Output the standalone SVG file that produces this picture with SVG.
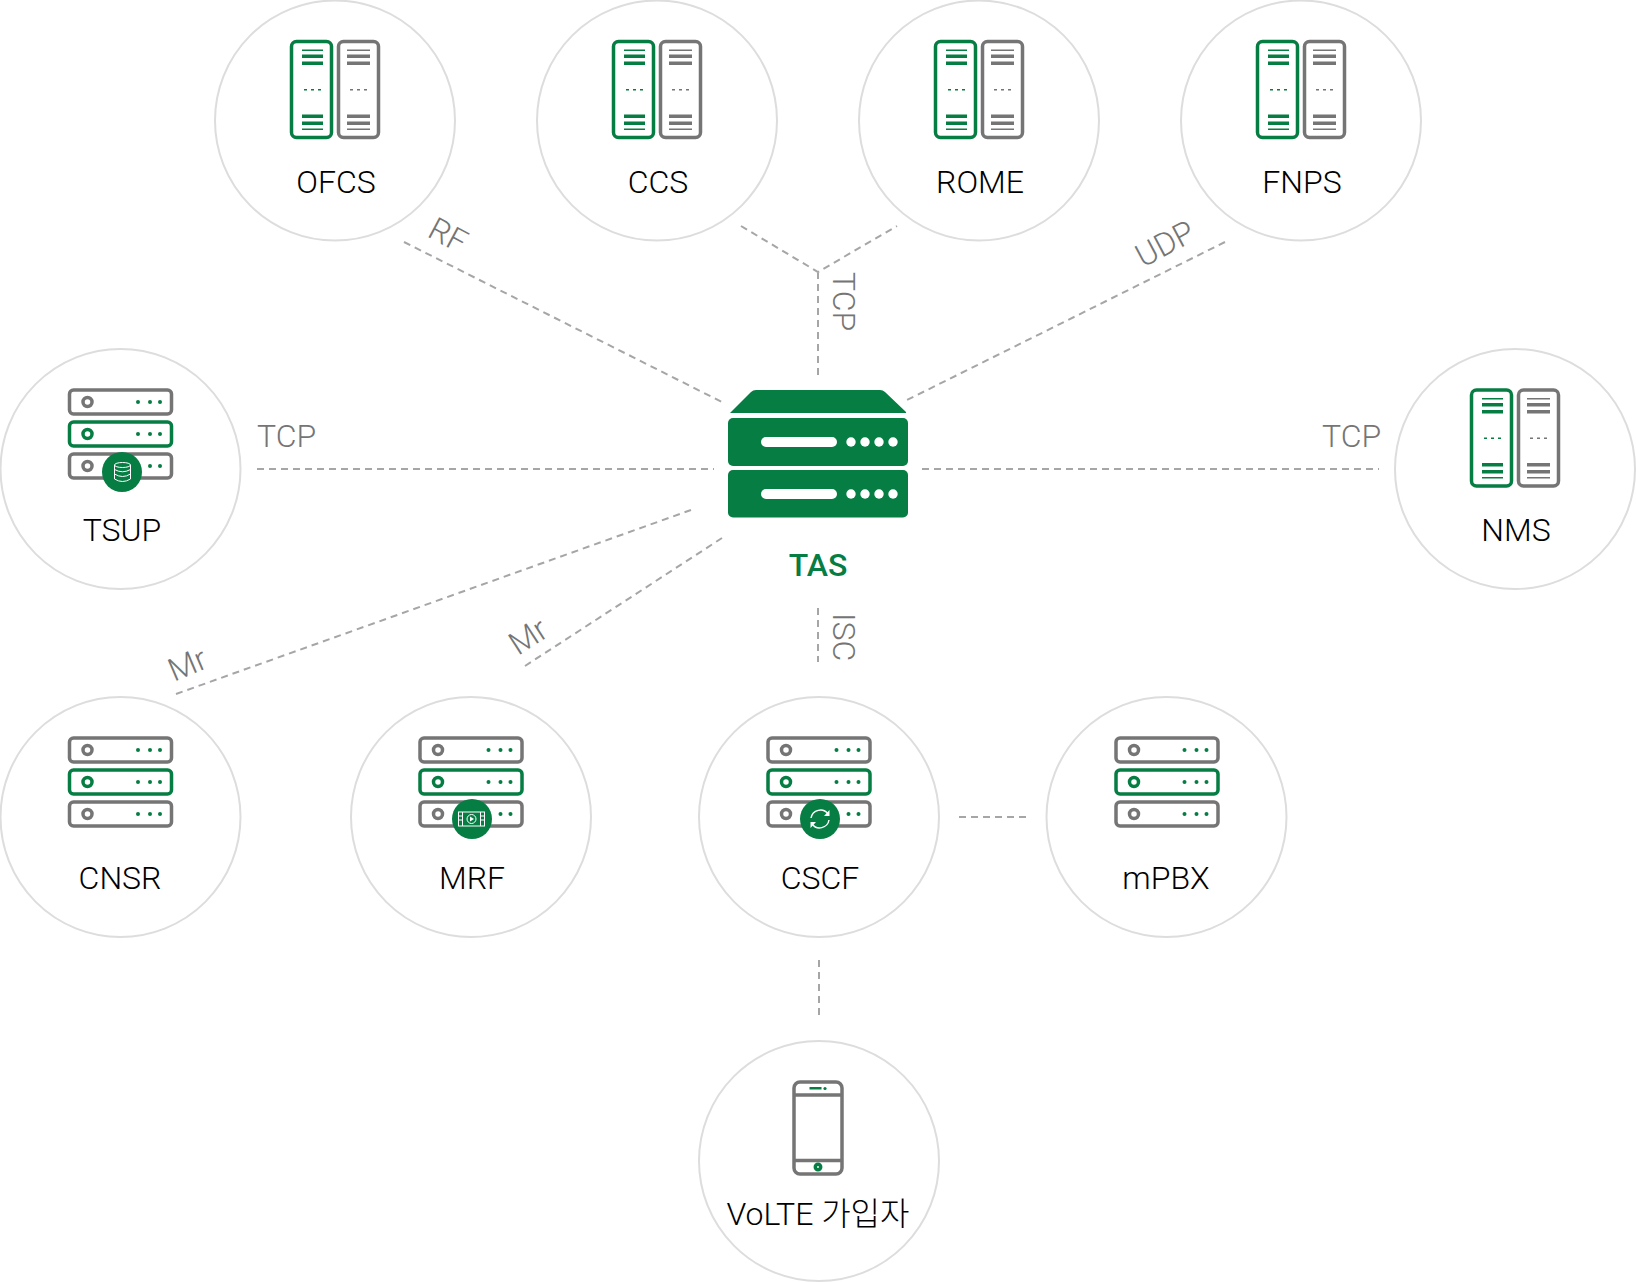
<svg xmlns="http://www.w3.org/2000/svg" width="1636" height="1282" viewBox="0 0 1636 1282">
<style>
.c{fill:#fff;stroke:#ddd;stroke-width:2}
.n{font:300 32px Roboto,"Noto Sans CJK KR",sans-serif;fill:#000;text-anchor:middle}
.t{font:300 32px Roboto,sans-serif;fill:#757575}
.l{fill:none;stroke:#a6a6a6;stroke-width:2;stroke-dasharray:7 5}
.g{fill:none;stroke:#757575;stroke-width:3.500}
.v{fill:none;stroke:#067d43;stroke-width:3.500}
.gf{fill:#757575}.vf{fill:#067d43}
</style>
<defs>
<g id="ii">
<rect class="v" x="-43.500" y="-79" width="40" height="96" rx="5"/>
<rect class="g" x="3.500" y="-79" width="40" height="96" rx="5"/>
<g class="vf"><rect x="-33" y="-71" width="21" height="1.500"/><rect x="-33" y="-66" width="21" height="3.500"/><rect x="-33" y="-59" width="21" height="3.500"/><rect x="-33" y="-6" width="21" height="3.500"/><rect x="-33" y="1" width="21" height="3.500"/><rect x="-33" y="8" width="21" height="1.500"/><rect x="-31" y="-31.500" width="3" height="1.500"/><rect x="-24" y="-31.500" width="3" height="1.500"/><rect x="-17" y="-31.500" width="3" height="1.500"/></g>
<g class="gf"><rect x="12" y="-71" width="23" height="1.500"/><rect x="12" y="-66" width="23" height="3.500"/><rect x="12" y="-59" width="23" height="3.500"/><rect x="12" y="-6" width="23" height="3.500"/><rect x="12" y="1" width="23" height="3.500"/><rect x="12" y="8" width="23" height="1.500"/><rect x="15" y="-31.500" width="3" height="1.500"/><rect x="22" y="-31.500" width="3" height="1.500"/><rect x="29" y="-31.500" width="3" height="1.500"/></g>
</g>
<g id="rk">
<rect class="g" x="-51" y="-79" width="102" height="24" rx="4"/>
<rect class="v" x="-51" y="-47" width="102" height="24" rx="4"/>
<rect class="g" x="-51" y="-15" width="102" height="24" rx="4"/>
<circle class="g" cx="-33" cy="-67" r="4.500"/><circle class="v" cx="-33" cy="-35" r="4.500"/><circle class="g" cx="-33" cy="-3" r="4.500"/>
<g class="vf"><circle cx="17.500" cy="-67" r="2"/><circle cx="29.500" cy="-67" r="2"/><circle cx="39.500" cy="-67" r="2"/><circle cx="17.500" cy="-35" r="2"/><circle cx="29.500" cy="-35" r="2"/><circle cx="39.500" cy="-35" r="2"/><circle cx="17.500" cy="-3" r="2"/><circle cx="29.500" cy="-3" r="2"/><circle cx="39.500" cy="-3" r="2"/></g>
</g>
</defs>
<g id="connectors">
<path class="l" d="M404 242L722 402M741 226L818 272L897 226M818 272V380M1225 242L907 400M257 469H714M922 469H1379M176 694L691 510M525 666L722 538M818 608V662M959 817H1026M819 960V1015"/>
<g class="t">
<text transform="translate(426 236) rotate(28)">RF</text>
<text transform="translate(833 272) rotate(90)">TCP</text>
<text transform="translate(1143 268) rotate(-28)">UDP</text>
<text x="257" y="447">TCP</text>
<text x="1322" y="447">TCP</text>
<text transform="translate(174 682) rotate(-23)">Mr</text>
<text transform="translate(518 656) rotate(-33)">Mr</text>
<text transform="translate(833 613) rotate(90)">ISC</text>
</g>
</g>
<g id="OFCS"><circle class="c" cx="335" cy="120.500" r="120"/><use href="#ii" x="335" y="120.500"/><text class="n" x="336" y="193">OFCS</text></g>
<g id="CCS"><circle class="c" cx="657" cy="120.500" r="120"/><use href="#ii" x="657" y="120.500"/><text class="n" x="658" y="193">CCS</text></g>
<g id="ROME"><circle class="c" cx="979" cy="120.500" r="120"/><use href="#ii" x="979" y="120.500"/><text class="n" x="980" y="193">ROME</text></g>
<g id="FNPS"><circle class="c" cx="1301" cy="120.500" r="120"/><use href="#ii" x="1301" y="120.500"/><text class="n" x="1302" y="193">FNPS</text></g>
<g id="NMS"><circle class="c" cx="1515" cy="469" r="120"/><use href="#ii" x="1515" y="469"/><text class="n" x="1516" y="541">NMS</text></g>
<g id="TSUP"><circle class="c" cx="120.500" cy="469" r="120"/><use href="#rk" x="120.500" y="469"/><circle class="vf" cx="122" cy="472" r="20"/>
<g fill="none" stroke="#fff" stroke-width="1"><ellipse cx="122.500" cy="465" rx="8" ry="2.500"/><path d="M114.500 465V479Q122.500 484 130.500 479V465M114.500 469.500Q122.500 474 130.500 469.500M114.500 474Q122.500 479 130.500 474"/></g>
<text class="n" x="122" y="541">TSUP</text></g>
<g id="CNSR"><circle class="c" cx="120.500" cy="817" r="120"/><use href="#rk" x="120.500" y="817"/><text class="n" x="120" y="889">CNSR</text></g>
<g id="MRF"><circle class="c" cx="471" cy="817" r="120"/><use href="#rk" x="471" y="817"/><circle class="vf" cx="472" cy="819" r="20"/>
<g fill="none" stroke="#fff" stroke-width="1"><rect x="458.500" y="812" width="26" height="14"/><path d="M462.500 812V826M480.500 812V826M458.500 816H462.500M458.500 820H462.500M480.500 816H484.500M480.500 820H484.500"/><circle cx="471.500" cy="819" r="4.500"/></g><path d="M470 816.500L474 819L470 821.500Z" fill="#fff"/>
<text class="n" x="472" y="889">MRF</text></g>
<g id="CSCF"><circle class="c" cx="819" cy="817" r="120"/><use href="#rk" x="819" y="817"/><circle class="vf" cx="820" cy="819" r="20"/>
<g fill="none" stroke="#fff" stroke-width="1.400"><path d="M811 818A9.500 9.500 0 0 1 828 814M829 820A9.500 9.500 0 0 1 812 824"/></g><path d="M829.500 810V816H824ZM810.500 828V822H816Z" fill="#fff"/>
<text class="n" x="820" y="889">CSCF</text></g>
<g id="mPBX"><circle class="c" cx="1166.500" cy="817" r="120"/><use href="#rk" x="1167" y="817"/><text class="n" x="1166" y="889">mPBX</text></g>
<g id="VoLTE"><circle class="c" cx="819" cy="1161" r="120"/>
<rect class="g" x="794" y="1082" width="48" height="92" rx="6"/><path class="g" d="M794 1095H842M794 1160.500H842"/>
<rect class="vf" x="809.500" y="1087" width="12" height="2.500"/><circle class="vf" cx="825" cy="1088.500" r="1.600"/><circle class="v" cx="818" cy="1167" r="2.700"/>
<text class="n" x="818" y="1225">VoLTE 가입자</text></g>
<g id="TAS">
<path class="vf" d="M730 413L751 392Q753 390 756 390H880Q883 390 885 392L906 412Q906.500 413 905 413Z"/>
<rect class="vf" x="728" y="418" width="180" height="48" rx="5"/><rect class="vf" x="728" y="470" width="180" height="47.500" rx="5"/>
<g fill="#fff"><rect x="761" y="437" width="76" height="10" rx="5"/><rect x="761" y="489" width="76" height="10" rx="5"/>
<circle cx="851" cy="442" r="4.700"/><circle cx="865" cy="442" r="4.700"/><circle cx="879" cy="442" r="4.700"/><circle cx="893" cy="442" r="4.700"/><circle cx="851" cy="494" r="4.700"/><circle cx="865" cy="494" r="4.700"/><circle cx="879" cy="494" r="4.700"/><circle cx="893" cy="494" r="4.700"/></g>
<text class="n" x="818" y="576" style="fill:#067d43;font-weight:500">TAS</text></g>
</svg>
